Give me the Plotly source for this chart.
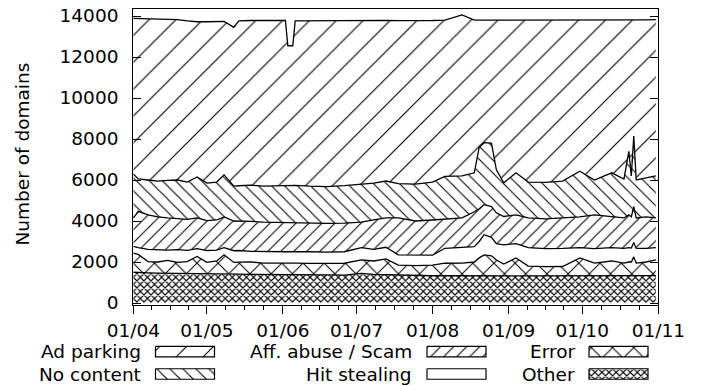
import plotly.graph_objects as go
import pandas as pd

# page body has an 8px margin; the figure is sized/positioned to compensate
OFF = 8
W, H = 701 - OFF, 385 - OFF

# ---------------- data ----------------
dates = [
    "2010-04-01", "2010-04-03", "2010-04-07", "2010-04-11", "2010-04-15", "2010-04-19",
    "2010-04-23", "2010-04-27", "2010-05-01", "2010-05-05", "2010-05-08", "2010-05-12",
    "2010-05-14", "2010-05-19", "2010-05-24", "2010-05-29", "2010-06-02", "2010-06-03",
    "2010-06-05", "2010-06-06", "2010-06-12", "2010-06-19", "2010-06-26", "2010-07-03",
    "2010-07-08", "2010-07-13", "2010-07-18", "2010-07-25", "2010-08-01", "2010-08-06",
    "2010-08-13", "2010-08-18", "2010-08-20", "2010-08-22", "2010-08-25", "2010-08-27",
    "2010-08-30", "2010-09-04", "2010-09-09", "2010-09-16", "2010-09-23", "2010-09-30",
    "2010-10-06", "2010-10-13", "2010-10-18", "2010-10-20", "2010-10-21", "2010-10-22",
    "2010-10-23", "2010-10-27", "2010-10-31",
]

other = [1500, 1480, 1470, 1460, 1450, 1450, 1440, 1440, 1430, 1420, 1420, 1410,
         1410, 1400, 1400, 1390, 1390, 1390, 1390, 1385, 1380, 1370, 1360, 1450,
         1400, 1380, 1350, 1340, 1330, 1330, 1320, 1320, 1320, 1320, 1320, 1320,
         1320, 1320, 1320, 1320, 1320, 1330, 1330, 1330, 1330, 1330, 1330, 1330,
         1330, 1330, 1340]

error = [930, 890, 550, 540, 630, 530, 580, 830, 550, 630, 930, 570,
         580, 600, 550, 570, 550, 550, 560, 565, 550, 550, 580, 650,
         650, 770, 500, 480, 520, 610, 630, 680, 880, 1030, 980, 780,
         580, 880, 480, 450, 460, 870, 620, 720, 620, 670, 670, 920,
         620, 670, 760]

hit_stealing = [330, 330, 600, 600, 500, 620, 550, 380, 580, 530, 350, 570,
                570, 520, 550, 550, 560, 560, 560, 560, 570, 560, 560, 600,
                570, 570, 500, 510, 490, 730, 750, 750, 800, 980, 900, 800,
                940, 700, 900, 880, 880, 500, 700, 650, 710, 700, 680, 700,
                710, 660, 600]

aff_abuse = [1380, 1770, 1680, 1600, 1570, 1500, 1510, 1500, 1460, 1470, 1500, 1450,
             1440, 1460, 1450, 1420, 1420, 1420, 1420, 1420, 1400, 1400, 1400, 1250,
             1430, 1430, 1800, 1670, 1710, 1430, 1450, 1700, 1600, 1470, 1500, 1500,
             1380, 1400, 1450, 1450, 1490, 1500, 1650, 1500, 1490, 1600, 1520, 1750,
             1490, 1540, 1450]

no_content = [2160, 1580, 1700, 1750, 1830, 1900, 1820, 2000, 1830, 1850, 2050, 1700,
              1720, 1770, 1750, 1790, 1830, 1830, 1800, 1810, 1800, 1800, 1830, 1850,
              1800, 1800, 1670, 1800, 1850, 2080, 2050, 1900, 3000, 3020, 3100, 2100,
              1640, 2050, 1750, 1780, 1800, 2230, 1700, 2150, 1900, 3100, 2000, 3440,
              1850, 1900, 2050]

ad_parking = [7580, 7820, 7860, 7900, 7860, 7820, 7860, 7570, 7870, 7830, 7490, 7750,
              8040, 8030, 8070, 8070, 8030, 6800, 6820, 8020, 8070, 8080, 8050, 7990,
              7930, 7840, 7950, 7960, 7880, 7620, 7850, 7450, 6200, 5990, 6000, 7300,
              7940, 7440, 7880, 7910, 7830, 7360, 7800, 7450, 7750, 6400, 7600, 5660,
              7800, 7710, 7620]

month_ticks = ["2010-04-01", "2010-05-01", "2010-06-01", "2010-07-01",
               "2010-08-01", "2010-09-01", "2010-10-01", "2010-11-01"]
month_labels = ["01/04", "01/05", "01/06", "01/07", "01/08", "01/09", "01/10", "01/11"]
y_ticks = [0, 2000, 4000, 6000, 8000, 10000, 12000, 14000]
y_labels = ["0", "2000", "4000", "6000", "8000", "10000", "12000", "14000"]

# stack order bottom -> top: name, values, pattern shape, pattern size, solidity
series = [
    ("Other", other, "x", 5.0, 0.39),
    ("Error", error, "x", 15.0, 0.13),
    ("Hit stealing", hit_stealing, "", 8, 0.0),
    ("Aff. abuse / Scam", aff_abuse, "/", 9.2, 0.12),
    ("No content", no_content, "\\", 9.2, 0.12),
    ("Ad parking", ad_parking, "/", 19, 0.06),
]

# legend grid position (row, col)
legend_pos = {
    "Ad parking": (0, 0), "Aff. abuse / Scam": (0, 1), "Error": (0, 2),
    "No content": (1, 0), "Hit stealing": (1, 1), "Other": (1, 2),
}

FONT = "DejaVu Sans"
FS = 18.5

def pat(shape, size, sol):
    if shape == "":
        return dict(shape="", bgcolor="white")
    return dict(shape=shape, size=size, solidity=sol, fgcolor="black",
                bgcolor="white", fillmode="replace")

fig = go.Figure()

for name, vals, shape, size, sol in series:
    fig.add_trace(go.Scatter(
        x=pd.to_datetime(dates), y=vals, name=name, mode="lines",
        stackgroup="one", line=dict(color="black", width=1.3, shape="linear"),
        fillcolor="white", fillpattern=pat(shape, size, sol),
        showlegend=False, hoverinfo="x+y+name",
    ))

# ---- manual gnuplot-style legend (text, then patterned box); coords in window px ----
col_text_right = [143, 414, 577]
col_box_left = [155.5, 427, 589]
row_center = [351.7, 374.0]
box_w, box_h = 59, 10.5

for name, vals, shape, size, sol in series:
    r, c = legend_pos[name]
    x0 = col_box_left[c] - OFF
    y0 = row_center[r] - OFF - box_h / 2
    fig.add_trace(go.Scatter(
        x=[x0, x0 + box_w, x0 + box_w, x0, x0],
        y=[y0, y0, y0 + box_h, y0 + box_h, y0],
        mode="lines", fill="toself", fillcolor="white",
        fillpattern=pat(shape, size, sol),
        line=dict(color="black", width=1.2),
        xaxis="x2", yaxis="y2", showlegend=False, hoverinfo="skip",
    ))
    fig.add_annotation(
        text=name, xref="paper", yref="paper",
        x=(col_text_right[c] - OFF) / W, y=(H - (row_center[r] - OFF)) / H,
        xanchor="right", yanchor="middle", showarrow=False,
        font=dict(family=FONT, size=FS, color="black"),
    )

# y axis title
fig.add_annotation(
    text="Number of domains", xref="paper", yref="paper",
    x=(21.5 - OFF) / W, y=(H - (154 - OFF)) / H, textangle=-90,
    xanchor="center", yanchor="middle", showarrow=False,
    font=dict(family=FONT, size=FS, color="black"),
)

x_left, x_right = 133.3 - OFF, 658.3 - OFF
y_top = max(6.7 - OFF, 0.6)
y_bottom = 305.0 - OFF
y_zero, y_14k = 303.0 - OFF, 16.0 - OFF
px_per_unit = (y_zero - y_14k) / 14000.0

minor_vals = []
for a, b in zip(month_ticks[:-1], month_ticks[1:]):
    ta, tb = pd.Timestamp(a), pd.Timestamp(b)
    for k in (1, 2, 3):
        minor_vals.append(ta + (tb - ta) * k / 4)

legend_h = 48
fig.update_layout(
    width=W, height=H,
    margin=dict(l=0, r=0, t=0, b=0, autoexpand=False),
    paper_bgcolor="white", plot_bgcolor="white",
    showlegend=False,
    font=dict(family=FONT, size=FS, color="black"),
    xaxis=dict(
        domain=[x_left / W, x_right / W], automargin=False,
        type="date",
        range=[month_ticks[0], month_ticks[-1]],
        tickmode="array", tickvals=month_ticks, ticktext=month_labels,
        ticks="outside", ticklen=8, tickwidth=1.2, tickcolor="black",
        showline=True, linecolor="black", linewidth=1.3, mirror=True,
        showgrid=False, zeroline=False,
        minor=dict(tickmode="array", tickvals=minor_vals, ticks="outside",
                   ticklen=4, tickwidth=1.1, tickcolor="black", showgrid=False),
        tickfont=dict(family=FONT, size=FS, color="black"),
        ticklabelstandoff=1, ticklabeloverflow="allow",
        anchor="y",
    ),
    yaxis=dict(
        domain=[(H - y_bottom) / H, (H - y_top) / H], automargin=False,
        range=[-(y_bottom - y_zero) / px_per_unit, 14000 + (y_14k - y_top) / px_per_unit],
        tickmode="array", tickvals=y_ticks, ticktext=y_labels,
        ticks="inside", ticklen=8, tickwidth=1.2, tickcolor="black",
        showline=True, linecolor="black", linewidth=1.3, mirror="ticks",
        showgrid=False, zeroline=False,
        tickfont=dict(family=FONT, size=FS, color="black"),
        ticklabelstandoff=10, ticklabeloverflow="allow",
        anchor="x",
    ),
    xaxis2=dict(domain=[0, 1], range=[0, W], visible=False, fixedrange=True,
                anchor="y2", automargin=False),
    yaxis2=dict(domain=[0, legend_h / H], range=[H, H - legend_h], visible=False,
                fixedrange=True, anchor="x2", automargin=False),
)

fig.write_html("out.html")
